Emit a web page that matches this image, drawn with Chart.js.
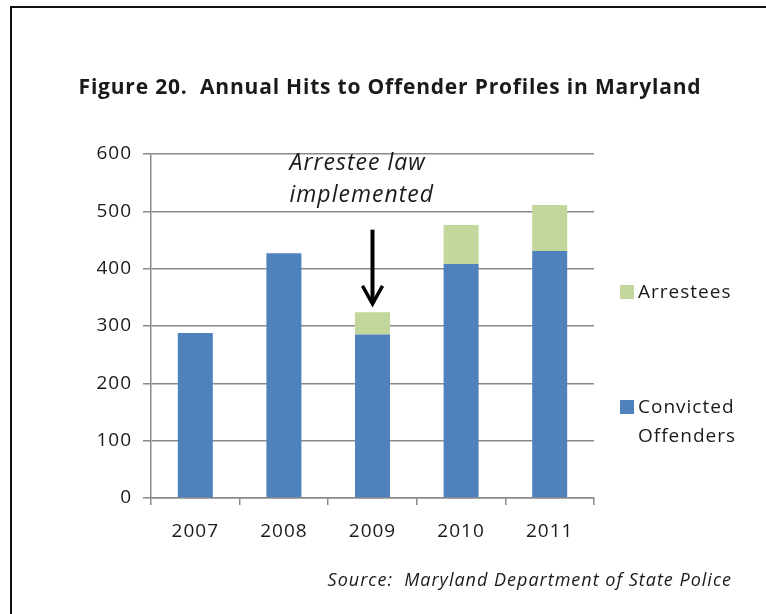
<!DOCTYPE html>
<html>
<head>
<meta charset="utf-8">
<script src="https://cdn.jsdelivr.net/npm/chart.js@4.4.0/dist/chart.umd.min.js"></script>
<style>
    html, body { margin: 0; padding: 0; background: #fff; }
    #wrap { position: relative; width: 766px; height: 614px; overflow: hidden; }
    #frame { position: absolute; left: 10px; top: 6px; right: -4px; bottom: -4px;
             border-left: 2px solid #111; border-top: 2px solid #111; }
    #c { position: absolute; left: 0; top: 0; }
</style>
</head>
<body>
<div id="wrap">
    <div id="frame"></div>
    <canvas id="c" width="766" height="614"></canvas>
</div>
<script>
// 연도별 데이터
const years = ['2007', '2008', '2009', '2010', '2011'];
const convicted = [288, 427, 285, 408, 431];
const arrestees = [null, null, 39, 68, 80];
const seriesNames = ['Convicted Offenders', 'Arrestees'];
const seriesColors = ['#4F81BD', '#C3D69B'];

const titleText = 'Figure 20.  Annual Hits to Offender Profiles in Maryland';
const sourceText = 'Source:  Maryland Department of State Police';
const noteLines = ['Arrestee law', 'implemented'];
const noteYear = '2009';
const noteTextValues = [584, 527];  // 텍스트 줄 위치 (y값)
const arrowValues = [468, 335];     // 화살표 시작/끝 (y값)

const FONT = "'Open Sans', 'Liberation Sans', sans-serif";
const TEXT = '#1a1a1a';
const GRID = '#8a8a8a';

// 글자 간격 (원본 글꼴이 더 넓음)
const spacingPlugin = {
    id: 'spacing',
    beforeLayout(chart) { chart.ctx.letterSpacing = '1px'; },
    beforeDraw(chart) { chart.ctx.letterSpacing = '1px'; }
};

// 제목, 범례, 주석, 출처
const decorPlugin = {
    id: 'decor',
    afterDraw(chart) {
        const ctx = chart.ctx;
        const x = chart.scales.x;
        const y = chart.scales.y;
        ctx.save();
        ctx.fillStyle = TEXT;
        ctx.textBaseline = 'middle';

        // 제목
        ctx.letterSpacing = '0.8px';
        ctx.font = 'bold 21px ' + FONT;
        ctx.textAlign = 'center';
        ctx.fillText(titleText, 390, 88);
        ctx.letterSpacing = '1px';

        // 주석 텍스트
        const cx = x.getPixelForValue(years.indexOf(noteYear));
        ctx.font = 'italic 23px ' + FONT;
        ctx.textAlign = 'left';
        noteLines.forEach((line, i) => {
            ctx.fillText(line, cx - 83, y.getPixelForValue(noteTextValues[i]));
        });

        // 화살표
        const y0 = y.getPixelForValue(arrowValues[0]);
        const y1 = y.getPixelForValue(arrowValues[1]);
        ctx.strokeStyle = '#000';
        ctx.lineWidth = 4;
        ctx.beginPath();
        ctx.moveTo(cx, y0);
        ctx.lineTo(cx, y1 - 4);
        ctx.stroke();
        ctx.lineWidth = 3.5;
        ctx.lineJoin = 'miter';
        ctx.beginPath();
        ctx.moveTo(cx - 10, y1 - 20);
        ctx.lineTo(cx, y1 - 2);
        ctx.lineTo(cx + 10, y1 - 20);
        ctx.stroke();

        // 범례
        ctx.font = '19px ' + FONT;
        ctx.textAlign = 'left';
        ctx.fillStyle = seriesColors[1];
        ctx.fillRect(620, 285, 14, 14);
        ctx.fillStyle = seriesColors[0];
        ctx.fillRect(620, 400, 14, 14);
        ctx.fillStyle = TEXT;
        ctx.fillText(seriesNames[1], 638, 293);
        const parts = seriesNames[0].split(' ');
        ctx.fillText(parts[0], 638, 408);
        ctx.fillText(parts[1], 638, 437);

        // 출처
        ctx.font = 'italic 18px ' + FONT;
        ctx.textAlign = 'right';
        ctx.fillText(sourceText, 732, 581);
        ctx.restore();
    }
};

new Chart(document.getElementById('c'), {
    type: 'bar',
    data: {
        labels: years,
        datasets: [
            {
                label: seriesNames[0],
                data: convicted,
                backgroundColor: seriesColors[0],
                categoryPercentage: 1,
                barPercentage: 0.395
            },
            {
                label: seriesNames[1],
                data: arrestees,
                backgroundColor: seriesColors[1],
                categoryPercentage: 1,
                barPercentage: 0.395
            }
        ]
    },
    options: {
        responsive: false,
        animation: false,
        layout: {
            padding: { left: 14, right: 172, top: 154, bottom: 0 }
        },
        plugins: {
            legend: { display: false },
            title: { display: false },
            tooltip: { enabled: false }
        },
        scales: {
            x: {
                stacked: true,
                afterFit: s => { s.height = 116; },
                grid: {
                    offset: true,
                    drawOnChartArea: false,
                    tickLength: 7,
                    color: GRID,
                    lineWidth: 1.5
                },
                border: { color: GRID, width: 1.5 },
                ticks: {
                    color: TEXT,
                    padding: 15,
                    font: { family: FONT, size: 19 }
                }
            },
            y: {
                stacked: true,
                min: 0,
                max: 600,
                afterFit: s => { s.width = 137; },
                grid: {
                    tickLength: 8,
                    color: GRID,
                    lineWidth: 1.5
                },
                border: { color: GRID, width: 1.5 },
                ticks: {
                    stepSize: 100,
                    color: TEXT,
                    padding: 11,
                    font: { family: FONT, size: 19 }
                }
            }
        }
    },
    plugins: [spacingPlugin, decorPlugin]
});
</script>
</body>
</html>
